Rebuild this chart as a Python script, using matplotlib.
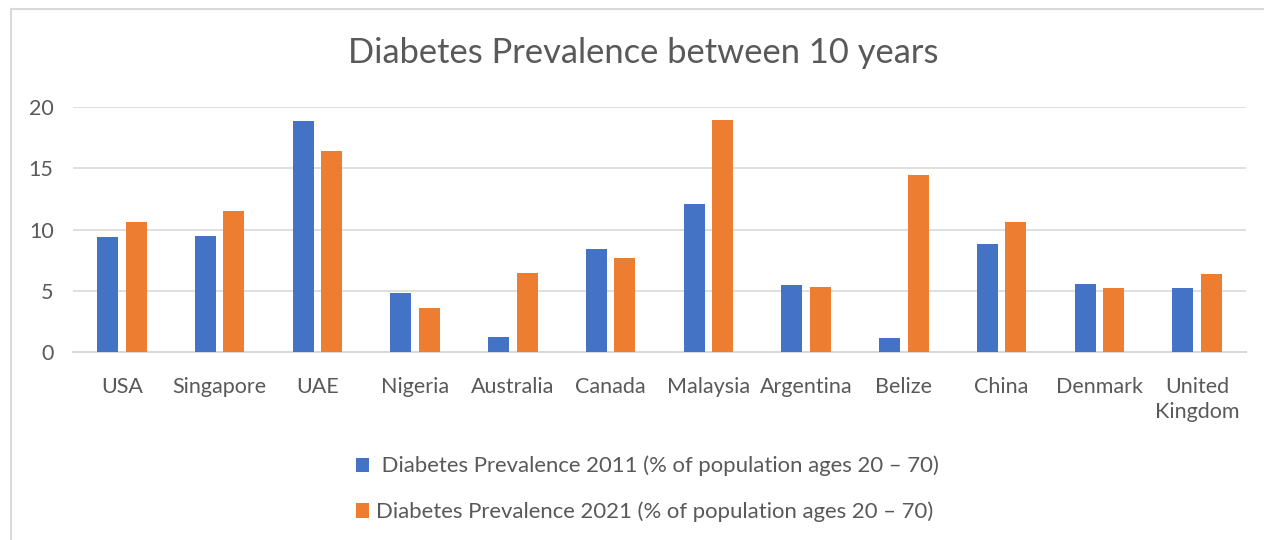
import matplotlib
matplotlib.use("Agg")
import matplotlib.pyplot as plt
from matplotlib.lines import Line2D
from matplotlib.patches import Patch
import numpy as np

categories = ["USA", "Singapore", "UAE", "Nigeria", "Australia", "Canada",
              "Malaysia", "Argentina", "Belize", "China", "Denmark", "United\nKingdom"]
prev_2011 = [9.36, 9.47, 18.86, 4.79, 1.20, 8.38, 12.08, 5.44, 1.12, 8.82, 5.55, 5.22]
prev_2021 = [10.58, 11.54, 16.44, 3.62, 6.42, 7.65, 18.94, 5.33, 14.48, 10.58, 5.22, 6.34]
series_labels = [" Diabetes Prevalence 2011 (% of population ages 20 \u2013 70)",
                 "Diabetes Prevalence 2021 (% of population ages 20 \u2013 70)"]
title = "Diabetes Prevalence between 10 years"
yticks = [0, 5, 10, 15, 20]

BLUE = "#4472C4"
ORANGE = "#ED7D31"
TEXT = "#595959"
GRID = "#D9D9D9"

plt.rcParams["font.family"] = ["Lato", "DejaVu Sans"]

W, H = 1264, 540
fig = plt.figure(figsize=(W / 100, H / 100), dpi=100)
ax = fig.add_axes([73 / W, 1 - 352 / H, (1246 - 73) / W, (352 - 107) / H])

x = np.arange(len(categories))
bw = 0.215
off = 0.145
ax.bar(x - off, prev_2011, width=bw, color=BLUE, zorder=3)
ax.bar(x + off, prev_2021, width=bw, color=ORANGE, zorder=3)

ax.set_xlim(-0.5, len(categories) - 0.5)
ax.set_ylim(0, 20)
ax.set_yticks(yticks)
ax.set_yticklabels([str(t) for t in yticks], color=TEXT, fontsize=15.5)
ax.set_xticks(x)
ax.set_xticklabels(categories, color=TEXT, fontsize=15.5, linespacing=1.3, va="top")
ax.tick_params(axis="y", length=0, pad=14)
ax.tick_params(axis="x", length=0, pad=18)
ax.yaxis.grid(True, color=GRID, linewidth=1.2, zorder=0)
ax.set_axisbelow(True)
for s in ["top", "right", "left"]:
    ax.spines[s].set_visible(False)
ax.spines["bottom"].set_color(GRID)
ax.spines["bottom"].set_linewidth(1.5)

fig.text(643 / W, 1 - 53 / H, title, ha="center", va="center", fontsize=24.8, color=TEXT)

handles = [Patch(facecolor=BLUE), Patch(facecolor=ORANGE)]
fig.legend(handles, series_labels, loc="center left",
           bbox_to_anchor=(356 / W, 1 - 489 / H), frameon=False,
           fontsize=15.9, labelcolor=TEXT, handlelength=0.6, handleheight=0.6,
           handletextpad=0.3, labelspacing=1.15, borderpad=0, borderaxespad=0)

# outer chart border (top and left visible)
fig.add_artist(Line2D([11 / W, 11 / W], [0, 1 - 8.5 / H], color=GRID, linewidth=1.5))
fig.add_artist(Line2D([11 / W, 1], [1 - 8.5 / H, 1 - 8.5 / H], color=GRID, linewidth=1.5))

fig.savefig("out.png", dpi=100, facecolor="white")
